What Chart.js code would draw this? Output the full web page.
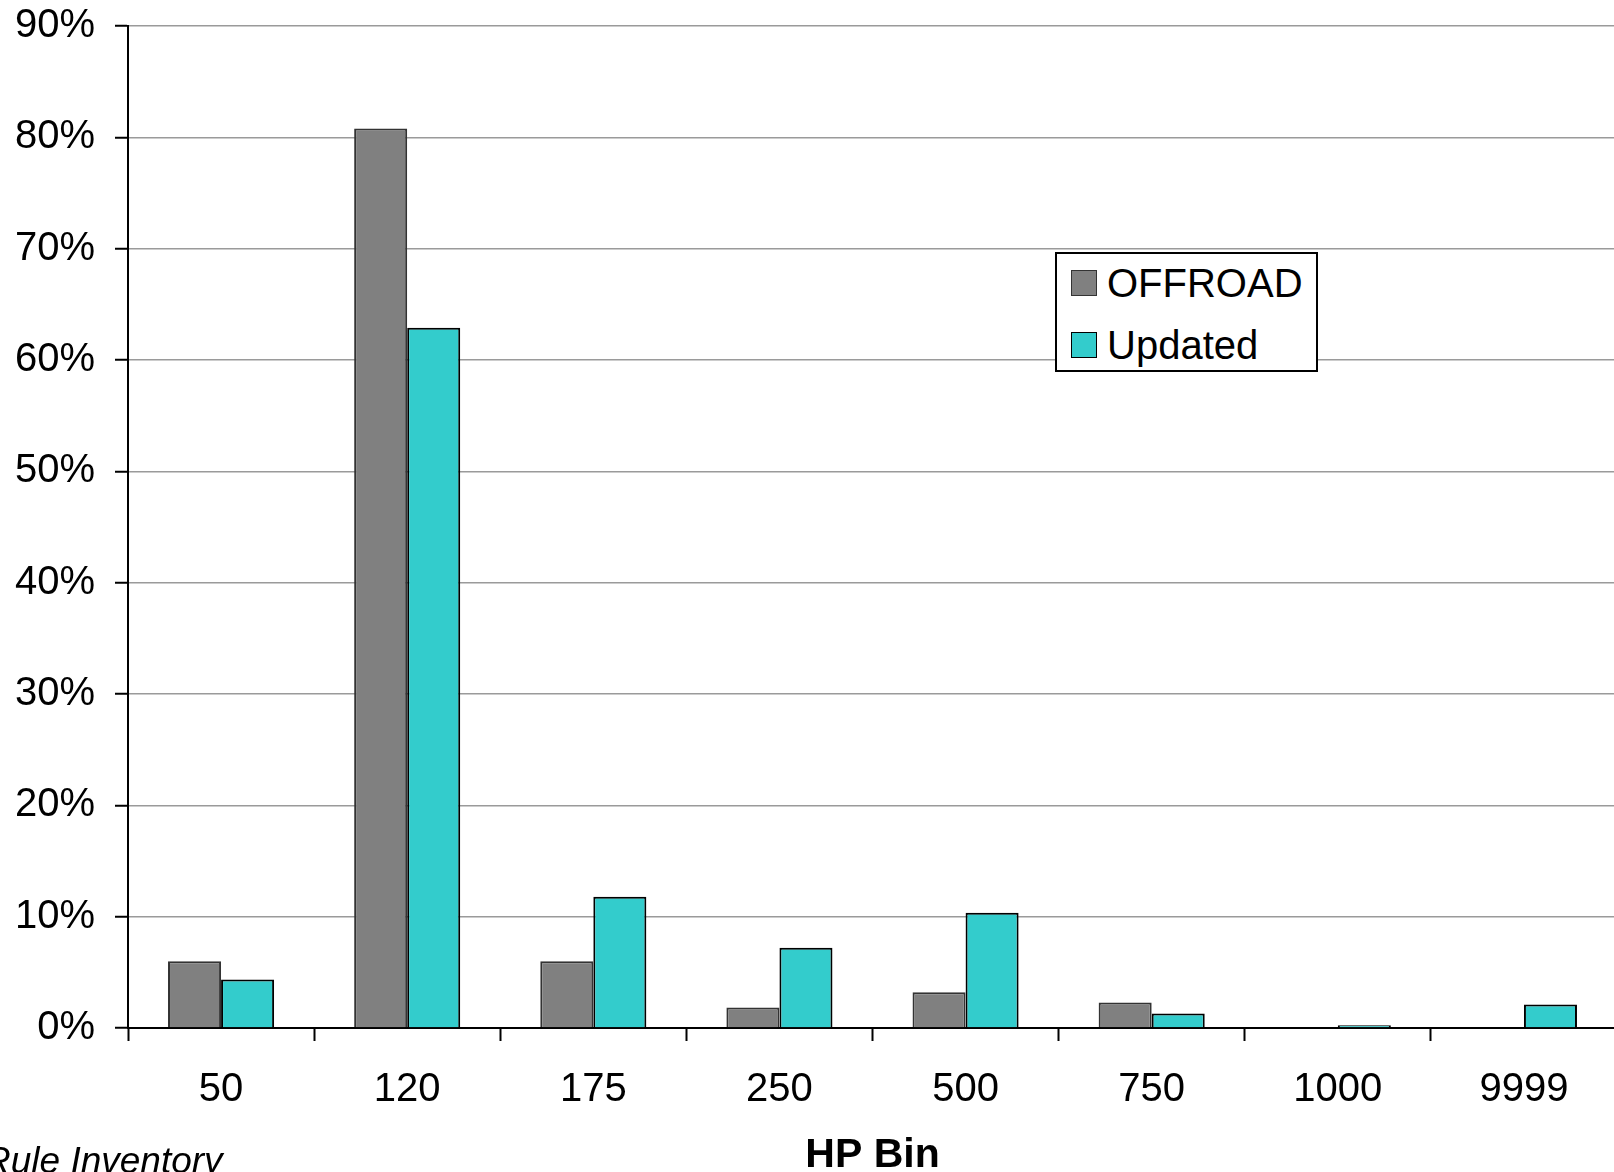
<!DOCTYPE html>
<html lang="en">
<head>
    <meta charset="UTF-8">
    <title>HP Bin</title>
    <style>
        body {
            margin: 0;
            background: #fff;
            overflow: hidden;
            font-family: "Liberation Sans", Arial, sans-serif;
        }
        #wrap {
            position: relative;
            width: 1614px;
            height: 1172px;
            overflow: hidden;
        }
        #chart {
            position: absolute;
            left: 0;
            top: 0;
        }
        #legend {
            position: absolute;
            left: 1055px;
            top: 252px;
            width: 259px;
            height: 116px;
            border: 2px solid #000;
            background: #fff;
        }
        .legend-row {
            position: absolute;
            left: 14px;
            height: 44px;
            display: flex;
            align-items: center;
            font-size: 40px;
            color: #000;
        }
        .legend-row span.box {
            width: 24px;
            height: 24px;
            margin-right: 10px;
        }
        #note {
            position: absolute;
            left: -16px;
            top: 1140px;
            font-size: 37px;
            font-style: italic;
            color: #000;
            white-space: nowrap;
        }
    </style>
</head>
<body>
    <div id="wrap">
        <canvas id="chart" width="1640" height="1180"></canvas>
        <div id="legend"></div>
        <div id="note">Rule Inventory</div>
    </div>

    <script src="https://cdn.jsdelivr.net/npm/chart.js"></script>
    <script>
        // values (percent of inventory per HP bin)
        const hpBins = ['50', '120', '175', '250', '500', '750', '1000', '9999'];
        const offroad = [6.0, 80.8, 6.0, 1.85, 3.2, 2.3, 0, 0];
        const updated = [4.35, 62.9, 11.8, 7.2, 10.35, 1.3, 0.25, 2.1];
        const yTicks = [0, 10, 20, 30, 40, 50, 60, 70, 80, 90];

        const fontFamily = '"Liberation Sans", Arial, sans-serif';

        const datasets = [
            {
                label: 'OFFROAD',
                data: offroad,
                backgroundColor: '#808080',
                borderColor: '#333333',
                borderWidth: 2
            },
            {
                label: 'Updated',
                data: updated,
                backgroundColor: '#33cccc',
                borderColor: '#000000',
                borderWidth: 2
            }
        ];

        const ctx = document.getElementById('chart').getContext('2d');
        const chart = new Chart(ctx, {
            type: 'bar',
            data: {
                labels: hpBins,
                datasets: datasets
            },
            options: {
                responsive: false,
                animation: false,
                categoryPercentage: 0.57,
                barPercentage: 1.0,
                layout: {
                    padding: { top: 26, right: 23, bottom: 0, left: 0 }
                },
                plugins: {
                    legend: { display: false },
                    tooltip: { enabled: false }
                },
                scales: {
                    x: {
                        grid: {
                            drawOnChartArea: false,
                            drawTicks: true,
                            tickLength: 13,
                            tickColor: '#000',
                            tickWidth: 2
                        },
                        border: { color: '#000', width: 2 },
                        ticks: {
                            color: '#000',
                            padding: 25,
                            font: { family: fontFamily, size: 40 }
                        },
                        title: {
                            display: true,
                            text: 'HP Bin',
                            color: '#000',
                            padding: { top: 0, bottom: 0 },
                            font: { family: fontFamily, size: 41, weight: 'bold' }
                        },
                        afterFit: (scale) => { scale.height = 1180 - 1028; }
                    },
                    y: {
                        min: yTicks[0],
                        max: yTicks[yTicks.length - 1],
                        afterBuildTicks: (scale) => {
                            scale.ticks = yTicks.map(v => ({ value: v }));
                        },
                        grid: {
                            color: '#9a9a9a',
                            lineWidth: 1.5,
                            tickLength: 13,
                            tickColor: '#000',
                            tickWidth: 2
                        },
                        border: { color: '#000', width: 2 },
                        ticks: {
                            color: '#000',
                            padding: 20,
                            font: { family: fontFamily, size: 40 },
                            callback: (v) => v + '%'
                        },
                        afterFit: (scale) => {
                            scale.width = 128;
                            scale.paddingTop = 0;
                            scale.paddingBottom = 0;
                        }
                    }
                }
            }
        });

        // legend box built from the datasets
        const legend = document.getElementById('legend');
        datasets.forEach((ds, i) => {
            const row = document.createElement('div');
            row.className = 'legend-row';
            row.style.top = (7 + i * 62) + 'px';
            const box = document.createElement('span');
            box.className = 'box';
            box.style.background = ds.backgroundColor;
            box.style.border = '1.5px solid ' + ds.borderColor;
            row.appendChild(box);
            row.appendChild(document.createTextNode(ds.label));
            legend.appendChild(row);
        });
    </script>
</body>
</html>
